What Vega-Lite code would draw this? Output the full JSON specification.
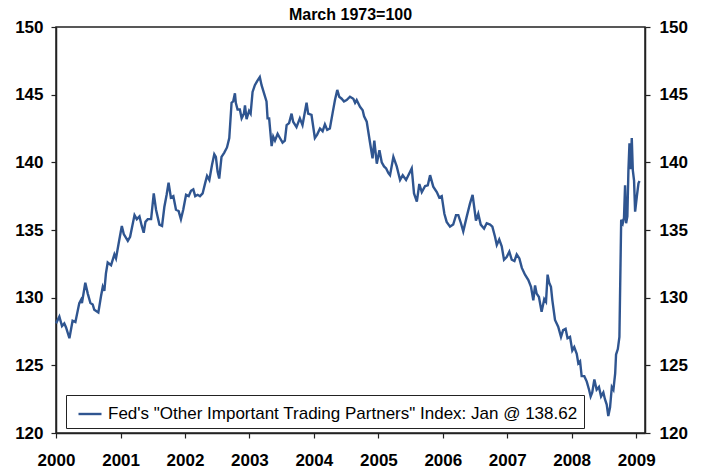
{
  "$schema": "https://vega.github.io/schema/vega-lite/v6.json",
  "autosize": "none",
  "width": 589,
  "height": 406,
  "padding": {"left": 56, "top": 27, "right": 59, "bottom": 36},
  "background": "white",
  "title": {"text": "March 1973=100", "fontSize": 16, "fontWeight": "bold", "font": "Liberation Sans", "color": "black", "anchor": "middle", "baseline": "alphabetic", "offset": -18},
  "config": {
    "view": {"stroke": "#222", "strokeWidth": 1.5},
    "axis": {"grid": false, "domainColor": "#222", "domainWidth": 1.5, "tickColor": "#222", "tickWidth": 1.2, "tickSize": 5, "labelFont": "Liberation Sans", "labelFontWeight": "bold", "labelFontSize": 17, "labelColor": "black", "title": null}
  },
  "data": {"values": [
    {"d":"2000-01-01","v":128.1},{"d":"2000-01-20","v":128.6},{"d":"2000-02-04","v":127.9},{"d":"2000-02-17","v":128.1},{"d":"2000-02-27","v":127.8},{"d":"2000-03-17","v":127.0},{"d":"2000-04-04","v":128.3},{"d":"2000-04-20","v":128.2},{"d":"2000-05-12","v":129.6},{"d":"2000-05-22","v":129.85},{"d":"2000-05-27","v":129.6},{"d":"2000-06-15","v":131.1},{"d":"2000-06-29","v":130.3},{"d":"2000-07-14","v":129.6},{"d":"2000-07-27","v":129.5},{"d":"2000-08-05","v":129.1},{"d":"2000-08-28","v":128.9},{"d":"2000-09-12","v":130.1},{"d":"2000-09-22","v":130.8},{"d":"2000-10-01","v":130.5},{"d":"2000-10-10","v":131.8},{"d":"2000-10-20","v":132.6},{"d":"2000-11-08","v":132.4},{"d":"2000-11-27","v":133.2},{"d":"2000-12-06","v":132.9},{"d":"2000-12-25","v":134.3},
    {"d":"2001-01-08","v":135.3},{"d":"2001-01-19","v":134.7},{"d":"2001-02-11","v":134.2},{"d":"2001-02-24","v":134.5},{"d":"2001-03-21","v":136.1},{"d":"2001-04-03","v":135.8},{"d":"2001-04-18","v":136.0},{"d":"2001-05-01","v":135.3},{"d":"2001-05-12","v":134.8},{"d":"2001-05-22","v":135.6},{"d":"2001-06-04","v":135.8},{"d":"2001-06-23","v":135.8},{"d":"2001-07-08","v":137.7},{"d":"2001-07-21","v":136.5},{"d":"2001-08-09","v":135.4},{"d":"2001-08-24","v":135.3},{"d":"2001-09-06","v":136.7},{"d":"2001-09-19","v":137.6},{"d":"2001-09-30","v":138.5},{"d":"2001-10-13","v":137.4},{"d":"2001-10-27","v":137.5},{"d":"2001-11-11","v":136.5},{"d":"2001-11-26","v":136.4},{"d":"2001-12-09","v":135.8},{"d":"2001-12-22","v":136.5},
    {"d":"2002-01-07","v":137.6},{"d":"2002-01-22","v":137.5},{"d":"2002-02-04","v":137.9},{"d":"2002-02-17","v":138.0},{"d":"2002-02-28","v":137.5},{"d":"2002-03-14","v":137.6},{"d":"2002-03-27","v":137.5},{"d":"2002-04-11","v":137.7},{"d":"2002-04-26","v":138.5},{"d":"2002-05-06","v":139.0},{"d":"2002-05-19","v":138.7},{"d":"2002-06-03","v":139.8},{"d":"2002-06-16","v":140.6},{"d":"2002-06-25","v":140.4},{"d":"2002-07-05","v":139.3},{"d":"2002-07-14","v":138.8},{"d":"2002-07-27","v":140.4},{"d":"2002-08-11","v":140.7},{"d":"2002-08-27","v":141.1},{"d":"2002-09-09","v":141.8},{"d":"2002-09-22","v":144.4},{"d":"2002-10-01","v":144.5},{"d":"2002-10-11","v":145.1},{"d":"2002-10-16","v":144.4},{"d":"2002-10-26","v":143.9},{"d":"2002-11-08","v":143.9},{"d":"2002-11-18","v":143.25},{"d":"2002-12-01","v":143.6},{"d":"2002-12-07","v":144.2},{"d":"2002-12-16","v":143.2},{"d":"2002-12-30","v":143.8},
    {"d":"2003-01-08","v":143.6},{"d":"2003-01-19","v":145.2},{"d":"2003-02-01","v":145.7},{"d":"2003-02-14","v":146.0},{"d":"2003-03-01","v":146.3},{"d":"2003-03-11","v":145.7},{"d":"2003-04-08","v":144.5},{"d":"2003-04-14","v":143.25},{"d":"2003-04-23","v":143.25},{"d":"2003-05-07","v":141.2},{"d":"2003-05-16","v":141.9},{"d":"2003-05-26","v":141.6},{"d":"2003-06-10","v":142.1},{"d":"2003-06-23","v":141.8},{"d":"2003-07-08","v":141.45},{"d":"2003-07-21","v":141.6},{"d":"2003-07-31","v":142.75},{"d":"2003-08-14","v":142.9},{"d":"2003-08-28","v":143.6},{"d":"2003-09-06","v":143.0},{"d":"2003-09-25","v":142.6},{"d":"2003-10-14","v":143.25},{"d":"2003-10-29","v":142.75},{"d":"2003-11-21","v":144.4},{"d":"2003-11-30","v":143.6},{"d":"2003-12-19","v":143.5},
    {"d":"2004-01-07","v":141.8},{"d":"2004-01-20","v":142.05},{"d":"2004-02-05","v":142.5},{"d":"2004-02-20","v":142.3},{"d":"2004-03-04","v":142.8},{"d":"2004-03-17","v":142.4},{"d":"2004-04-01","v":142.5},{"d":"2004-04-16","v":143.6},{"d":"2004-04-30","v":144.6},{"d":"2004-05-13","v":145.35},{"d":"2004-05-24","v":144.85},{"d":"2004-06-07","v":144.7},{"d":"2004-06-20","v":144.5},{"d":"2004-07-05","v":144.6},{"d":"2004-07-24","v":144.85},{"d":"2004-08-12","v":144.7},{"d":"2004-08-22","v":144.4},{"d":"2004-08-31","v":144.6},{"d":"2004-09-19","v":144.1},{"d":"2004-10-04","v":143.85},{"d":"2004-10-12","v":143.4},{"d":"2004-10-27","v":143.0},{"d":"2004-11-14","v":141.5},{"d":"2004-11-29","v":140.3},{"d":"2004-12-09","v":141.6},{"d":"2004-12-23","v":139.9},
    {"d":"2005-01-07","v":140.9},{"d":"2005-01-20","v":140.0},{"d":"2005-02-02","v":139.7},{"d":"2005-02-14","v":139.55},{"d":"2005-02-27","v":139.2},{"d":"2005-03-08","v":139.05},{"d":"2005-03-27","v":140.4},{"d":"2005-04-15","v":139.7},{"d":"2005-05-04","v":138.7},{"d":"2005-05-19","v":139.05},{"d":"2005-06-07","v":138.7},{"d":"2005-06-20","v":139.05},{"d":"2005-07-09","v":139.55},{"d":"2005-07-22","v":137.7},{"d":"2005-08-07","v":137.1},{"d":"2005-08-21","v":138.4},{"d":"2005-09-04","v":137.8},{"d":"2005-09-23","v":138.25},{"d":"2005-10-08","v":138.3},{"d":"2005-10-21","v":139.05},{"d":"2005-11-08","v":138.2},{"d":"2005-11-28","v":137.8},{"d":"2005-12-12","v":137.4},{"d":"2005-12-26","v":137.5},
    {"d":"2006-01-10","v":136.2},{"d":"2006-01-23","v":135.6},{"d":"2006-02-11","v":135.25},{"d":"2006-03-01","v":135.4},{"d":"2006-03-17","v":136.1},{"d":"2006-03-30","v":136.1},{"d":"2006-04-14","v":135.5},{"d":"2006-04-27","v":134.9},{"d":"2006-05-16","v":135.95},{"d":"2006-06-04","v":136.95},{"d":"2006-06-19","v":137.6},{"d":"2006-06-28","v":136.7},{"d":"2006-07-08","v":135.7},{"d":"2006-07-21","v":136.2},{"d":"2006-08-04","v":135.4},{"d":"2006-08-23","v":135.1},{"d":"2006-09-07","v":135.5},{"d":"2006-09-26","v":135.4},{"d":"2006-10-09","v":135.25},{"d":"2006-10-24","v":134.5},{"d":"2006-11-03","v":133.9},{"d":"2006-11-17","v":134.3},{"d":"2006-12-01","v":133.8},{"d":"2006-12-14","v":132.8},{"d":"2006-12-29","v":133.0},
    {"d":"2007-01-13","v":133.4},{"d":"2007-01-27","v":132.8},{"d":"2007-02-11","v":132.7},{"d":"2007-02-24","v":133.2},{"d":"2007-03-11","v":132.9},{"d":"2007-03-25","v":132.2},{"d":"2007-04-12","v":131.7},{"d":"2007-05-01","v":131.3},{"d":"2007-05-16","v":130.8},{"d":"2007-05-29","v":129.8},{"d":"2007-06-08","v":130.9},{"d":"2007-06-17","v":130.3},{"d":"2007-06-30","v":130.05},{"d":"2007-07-15","v":128.95},{"d":"2007-07-30","v":129.9},{"d":"2007-08-09","v":129.7},{"d":"2007-08-18","v":131.7},{"d":"2007-08-27","v":131.1},{"d":"2007-09-06","v":130.8},{"d":"2007-09-14","v":129.8},{"d":"2007-09-29","v":128.35},{"d":"2007-10-17","v":127.85},{"d":"2007-11-02","v":127.1},{"d":"2007-11-14","v":127.6},{"d":"2007-11-28","v":127.7},{"d":"2007-12-09","v":127.0},{"d":"2007-12-23","v":127.1},
    {"d":"2008-01-05","v":126.1},{"d":"2008-01-16","v":126.35},{"d":"2008-01-30","v":125.85},{"d":"2008-02-08","v":125.15},{"d":"2008-02-18","v":125.3},{"d":"2008-02-27","v":124.2},{"d":"2008-03-13","v":124.2},{"d":"2008-03-27","v":123.8},{"d":"2008-04-09","v":123.2},{"d":"2008-04-18","v":122.7},{"d":"2008-04-27","v":123.0},{"d":"2008-05-09","v":123.95},{"d":"2008-05-22","v":123.2},{"d":"2008-06-04","v":123.4},{"d":"2008-06-16","v":122.7},{"d":"2008-06-29","v":123.0},{"d":"2008-07-08","v":122.5},{"d":"2008-07-18","v":122.1},{"d":"2008-07-27","v":121.25},{"d":"2008-08-06","v":121.9},{"d":"2008-08-16","v":123.4},{"d":"2008-08-25","v":123.2},{"d":"2008-09-04","v":124.4},{"d":"2008-09-09","v":125.8},{"d":"2008-09-19","v":126.2},{"d":"2008-09-28","v":127.1},{"d":"2008-10-08","v":135.75},{"d":"2008-10-17","v":135.5},{"d":"2008-10-24","v":135.9},{"d":"2008-10-30","v":138.3},{"d":"2008-11-05","v":135.5},{"d":"2008-11-12","v":136.0},{"d":"2008-11-18","v":139.4},{"d":"2008-11-24","v":141.4},{"d":"2008-12-01","v":139.5},{"d":"2008-12-07","v":141.8},{"d":"2008-12-13","v":139.4},{"d":"2008-12-20","v":138.65},{"d":"2008-12-26","v":136.35},
    {"d":"2009-01-05","v":137.5},{"d":"2009-01-14","v":138.45},{"d":"2009-01-20","v":138.62}
  ]},
  "encoding": {
    "x": {"field": "d", "type": "temporal",
      "scale": {"type": "utc", "domain": [{"year": 2000, "month": 1, "date": 1, "utc": true}, {"year": 2009, "month": 2, "date": 20, "utc": true}]},
      "axis": {"format": "%Y", "formatType": "utc", "labelPadding": 27, "labelBaseline": "alphabetic", "labelFlush": false, "labelOverlap": false,
        "values": [{"year":2000,"month":1,"date":1,"utc":true},{"year":2001,"month":1,"date":1,"utc":true},{"year":2002,"month":1,"date":1,"utc":true},{"year":2003,"month":1,"date":1,"utc":true},{"year":2004,"month":1,"date":1,"utc":true},{"year":2005,"month":1,"date":1,"utc":true},{"year":2006,"month":1,"date":1,"utc":true},{"year":2007,"month":1,"date":1,"utc":true},{"year":2008,"month":1,"date":1,"utc":true},{"year":2009,"month":1,"date":1,"utc":true}]}},
    "y": {"field": "v", "type": "quantitative", "scale": {"domain": [120, 150], "nice": false, "zero": false}}
  },
  "layer": [
    {
      "mark": {"type": "line", "opacity": 0},
      "encoding": {"y": {"field": "v", "type": "quantitative", "axis": {"orient": "right", "values": [120,125,130,135,140,145,150], "labelPadding": 9}}}
    },
    {
      "mark": {"type": "line", "strokeWidth": 2.4},
      "encoding": {
        "y": {"field": "v", "type": "quantitative", "axis": {"orient": "left", "values": [120,125,130,135,140,145,150], "labelPadding": 8}},
        "color": {"datum": "Fed's \"Other Important Trading Partners\" Index: Jan @ 138.62", "type": "nominal",
          "scale": {"range": ["#2f5590"]},
          "legend": {"title": null, "orient": "none", "legendX": 10, "legendY": 368, "fillColor": "white", "strokeColor": "#222", "padding": 6,
            "symbolType": "stroke", "symbolSize": 529, "symbolStrokeWidth": 2.4, "symbolOffset": 5, "labelOffset": 5,
            "labelFont": "Liberation Sans", "labelFontSize": 17, "labelColor": "black", "labelLimit": 600}}
      }
    }
  ],
  "resolve": {"axis": {"y": "independent"}}
}
